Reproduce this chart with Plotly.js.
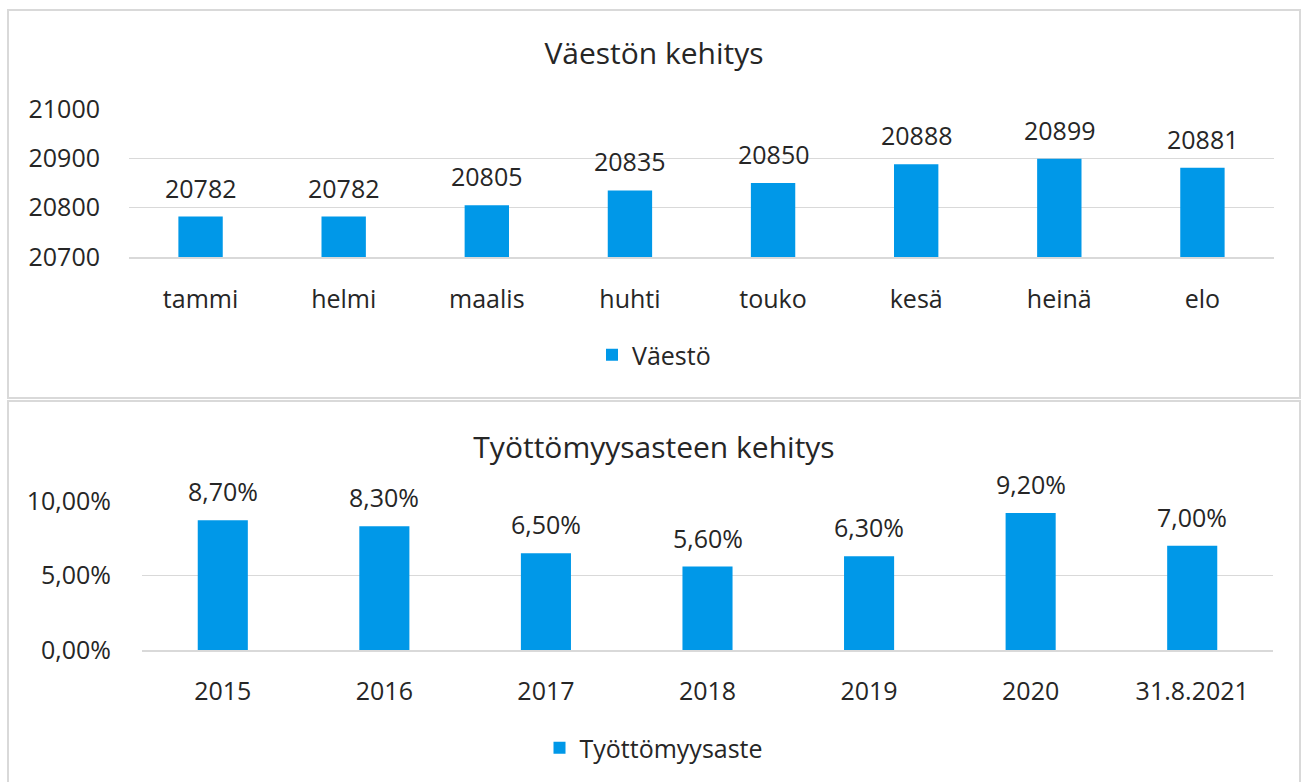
<!DOCTYPE html>
<html><head><meta charset="utf-8">
<script src="https://cdn.plot.ly/plotly-3.0.1.min.js"></script>
<style>
html,body{margin:0;padding:0;background:#fff;width:1302px;height:782px;overflow:hidden;}
.box{position:absolute;box-sizing:border-box;border:2px solid #d9d9d9;background:#fff;}
#c1{left:7px;top:9px;width:1294px;height:390px;}
#c2{left:7px;top:400px;width:1294px;height:386px;}
</style></head>
<body>
<div id="c1" class="box"></div>
<div id="c2" class="box"></div>
<script>
// Chart 1 data
const months = ['tammi','helmi','maalis','huhti','touko','kesä','heinä','elo'];
const population = [20782, 20782, 20805, 20835, 20850, 20888, 20899, 20881];
const popTicks = [20700, 20800, 20900, 21000];
// Chart 2 data
const years = ['2015','2016','2017','2018','2019','2020','31.8.2021'];
const unemployment = [0.087, 0.083, 0.065, 0.056, 0.063, 0.092, 0.070];
const unempTicks = [0, 0.05, 0.10];

const FONT = 'Open Sans, Noto Sans, sans-serif';
const TXT = '#262626';
const BLUE = '#0098E8';
const GRID = '#d9d9d9';
const FS = 25;
const TFS = 30;

function fmtPct(v){ return (v*100).toFixed(2).replace('.', ',') + '%'; }

// Chart 1
Plotly.newPlot('c1', [{
  type:'bar', x:months, y:population, name:'Väestö',
  marker:{color:BLUE}, hoverinfo:'none'
}], {
  width:1290, height:386,
  margin:{l:120, r:25, t:98, b:140},
  paper_bgcolor:'#fff', plot_bgcolor:'#fff',
  font:{family:FONT, color:TXT, size:FS},
  title:{text:'Väestön kehitys', font:{size:TFS, color:TXT}, x:0.5, xref:'container', y:1-42/386, yref:'container', yanchor:'middle'},
  bargap:0.69,
  showlegend:true,
  legend:{orientation:'h', x:0.5, xref:'container', xanchor:'center', y:1-344/386, yref:'container', yanchor:'middle', font:{size:FS, color:TXT}},
  xaxis:{type:'category', range:[-0.5, months.length-0.5], autorange:false, showgrid:false, showline:true, linecolor:GRID, linewidth:1.5, ticks:'', ticklabelstandoff:19, tickfont:{size:FS, color:TXT}},
  yaxis:{range:[20700,21000], autorange:false, tickvals:popTicks, tickformat:'d', showgrid:true, gridcolor:GRID, gridwidth:1.5, zeroline:false, ticks:'', ticklabelstandoff:28, tickfont:{size:FS, color:TXT}},
  annotations: months.map((m,i)=>({x:i, y:population[i], text:String(population[i]), showarrow:false, yanchor:'middle', yshift:29, font:{size:FS, color:TXT}}))
}, {staticPlot:true});

// Chart 2
Plotly.newPlot('c2', [{
  type:'bar', x:years, y:unemployment, name:'Työttömyysaste',
  marker:{color:BLUE}, hoverinfo:'none'
}], {
  width:1290, height:382,
  separators:', ',
  margin:{l:133, r:26, t:99, b:134},
  paper_bgcolor:'#fff', plot_bgcolor:'#fff',
  font:{family:FONT, color:TXT, size:FS},
  title:{text:'Työttömyysasteen kehitys', font:{size:TFS, color:TXT}, x:0.5, xref:'container', y:1-45/382, yref:'container', yanchor:'middle'},
  bargap:0.69,
  showlegend:true,
  legend:{orientation:'h', x:0.5, xref:'container', xanchor:'center', y:1-346/382, yref:'container', yanchor:'middle', font:{size:FS, color:TXT}},
  xaxis:{type:'category', range:[-0.5, years.length-0.5], autorange:false, showgrid:false, showline:true, linecolor:GRID, linewidth:1.5, ticks:'', ticklabelstandoff:18, tickfont:{size:FS, color:TXT}},
  yaxis:{range:[0,0.10], autorange:false, tickvals:unempTicks, tickformat:'.2%', showgrid:true, gridcolor:GRID, gridwidth:1.5, zeroline:false, ticks:'', ticklabelstandoff:30, tickfont:{size:FS, color:TXT}},
  annotations: years.map((c,i)=>({x:i, y:unemployment[i], text:fmtPct(unemployment[i]), showarrow:false, yanchor:'middle', yshift:29, font:{size:FS, color:TXT}}))
}, {staticPlot:true});
</script>
</body></html>
